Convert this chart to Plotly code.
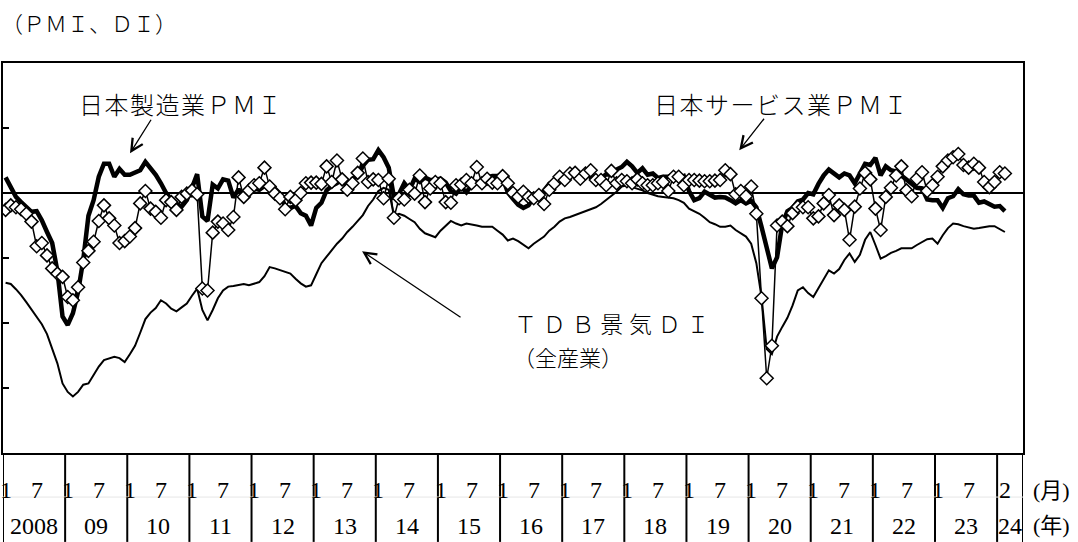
import plotly.graph_objects as go

# month slots on the category axis: Jan 2008 .. May 2024 (data ends Feb 2024)
n_slots = 197

year_labels = ["2008", "09", "10", "11", "12", "13", "14", "15", "16",
               "17", "18", "19", "20", "21", "22", "23", "24"]

# Japan manufacturing PMI
mfg = [
    52.4, 50.7, 49.4, 48.6, 47.9, 47.1, 47.2, 45.8, 44.0, 42.3, 38.0, 31.0,  # 2008
    29.7, 31.5, 34.8, 39.7, 46.5, 48.9, 52.5, 54.5, 54.5, 52.5, 53.7, 52.8,  # 2009
    52.8, 53.1, 53.5, 54.8, 53.8, 52.8, 51.5, 50.0, 49.0, 48.3, 47.9, 48.9,  # 2010
    50.8, 52.9, 46.4, 45.7, 51.3, 50.7, 52.1, 51.9, 49.3, 50.6, 49.1, 50.2,  # 2011
    50.7, 50.5, 51.1, 50.7, 50.7, 49.9, 47.9, 47.7, 48.0, 46.9, 46.5, 45.0,  # 2012
    47.7, 48.5, 50.4, 51.1, 51.5, 52.3, 50.7, 52.2, 52.5, 54.2, 55.1, 55.2,  # 2013
    56.6, 55.5, 53.9, 49.4, 49.9, 51.5, 50.5, 52.2, 51.7, 52.4, 52.0, 52.0,  # 2014
    52.2, 51.6, 50.3, 49.9, 50.9, 50.1, 51.2, 51.7, 51.0, 52.4, 52.6, 52.6,  # 2015
    52.3, 50.1, 49.1, 48.2, 47.7, 48.1, 49.3, 49.5, 50.4, 51.4, 51.3, 52.4,  # 2016
    52.7, 53.3, 52.4, 52.7, 53.1, 52.4, 52.1, 52.2, 52.9, 52.8, 53.6, 54.0,  # 2017
    54.8, 54.1, 53.1, 53.8, 52.8, 53.0, 52.3, 52.5, 52.5, 52.9, 52.2, 52.6,  # 2018
    50.3, 48.9, 49.2, 50.2, 49.8, 49.3, 49.4, 49.3, 48.9, 48.4, 48.9, 48.4,  # 2019
    48.8, 47.8, 44.8, 41.9, 38.4, 40.1, 45.2, 47.2, 47.7, 48.7, 49.0, 50.0,  # 2020
    49.8, 51.4, 52.7, 53.6, 53.0, 52.4, 53.0, 52.7, 51.5, 53.2, 54.5, 54.3,  # 2021
    55.4, 52.7, 54.1, 53.5, 53.3, 52.7, 52.1, 51.5, 50.8, 50.7, 49.0, 48.9,  # 2022
    48.9, 47.7, 49.2, 49.5, 50.6, 49.8, 49.6, 49.6, 48.5, 48.7, 48.3, 47.9,  # 2023
    48.0, 47.2,                                                              # 2024
]

# Japan services PMI
svc = [
    47.4, 48.1, 47.8, 47.5, 46.8, 45.6, 41.8, 42.3, 40.4, 38.4, 37.6, 37.1,
    34.0, 33.5, 35.5, 39.3, 41.1, 42.5, 45.7, 48.1, 46.1, 45.0, 42.3, 42.6,
    43.3, 44.6, 48.4, 50.3, 47.6, 47.1, 46.2, 48.9, 48.6, 47.4, 49.4, 49.9,
    50.4, 49.8, 35.3, 35.0, 43.9, 45.6, 45.3, 44.3, 46.3, 52.4, 49.4, 50.4,
    51.2, 51.5, 53.9, 51.0, 49.9, 49.2, 47.5, 49.4, 48.9, 50.0, 51.5, 51.6,
    51.6, 51.4, 54.1, 51.7, 55.0, 52.1, 50.5, 51.5, 53.1, 55.3, 51.7, 52.1,
    52.0, 49.2, 52.2, 46.2, 49.2, 49.0, 50.5, 49.9, 52.7, 48.6, 50.7, 51.7,
    51.5, 48.6, 48.5, 51.2, 51.3, 52.0, 51.5, 54.0, 51.5, 52.2, 51.6, 51.5,
    52.6, 51.5, 50.0, 49.4, 50.2, 49.4, 49.2, 49.7, 48.3, 50.5, 51.5, 52.5,
    52.0, 53.0, 53.1, 52.2, 53.0, 53.5, 52.0, 52.0, 51.2, 53.4, 51.5, 52.0,
    51.8, 51.5, 52.1, 51.5, 51.2, 51.2, 51.5, 51.7, 50.3, 52.5, 52.5, 51.2,
    52.0, 52.0, 51.9, 51.8, 51.8, 51.9, 52.0, 53.5, 52.9, 49.8, 50.3, 49.5,
    51.0, 46.8, 33.8, 21.5, 26.5, 45.0, 45.6, 44.9, 46.9, 47.9, 47.8, 47.8,
    46.1, 46.4, 48.4, 49.7, 46.6, 48.1, 47.4, 42.8, 47.9, 50.7, 53.1, 52.1,
    47.6, 44.3, 49.4, 50.8, 52.7, 54.1, 50.4, 49.5, 52.2, 53.2, 50.3, 51.2,
    52.5, 54.1, 55.0, 55.5, 56.0, 54.3, 53.9, 54.5, 53.9, 51.7, 50.9, 51.7,
    53.2, 53.0,
]

# TDB business conditions DI (all industries)
tdb = [
    36.2, 36.0, 35.2, 34.3, 33.2, 32.0, 31.0, 29.8, 28.3, 26.2, 23.8, 20.7,
    19.4, 18.7, 19.4, 20.5, 20.7, 22.0, 23.3, 24.3, 24.6, 24.8, 24.6, 24.0,
    25.2, 26.5, 28.5, 30.6, 31.6, 32.3, 33.5, 33.0, 32.2, 31.8, 32.4, 33.0,
    34.2, 35.3, 32.0, 30.4, 32.0, 33.8, 35.0, 35.6, 35.7, 35.8, 36.0, 35.8,
    36.0, 36.3, 37.2, 38.6, 38.4, 38.1, 37.9, 37.6, 36.8, 36.1, 35.6, 35.8,
    37.5, 39.2, 40.2, 41.2, 42.2, 43.0, 44.0, 44.8, 45.7, 46.6, 48.0, 49.0,
    50.3, 50.8, 50.5, 46.5, 46.8, 46.5, 46.0, 45.5, 44.5, 43.8, 43.5, 43.2,
    44.2, 45.0, 45.7, 45.3, 45.0, 45.3, 45.2, 45.0, 44.8, 44.8, 44.8, 44.2,
    43.6, 42.7, 43.0, 42.6, 42.0, 41.5, 42.2, 42.7, 43.3, 44.2, 44.8, 45.6,
    46.1, 46.3, 46.6, 46.8, 47.1, 47.4, 47.8, 48.3, 48.9, 49.5, 50.2, 51.0,
    51.2, 50.9, 50.7, 50.4, 50.0, 49.7, 49.5, 49.4, 49.3, 49.2, 48.9, 48.5,
    47.6, 47.2, 46.8, 46.2, 45.5, 45.2, 44.8, 44.8, 45.0, 44.3, 43.8, 43.3,
    42.2, 39.2, 34.0, 26.0, 25.2, 27.9, 29.4, 30.8, 32.7, 35.0, 35.5, 34.6,
    34.0, 35.3, 36.6, 38.1, 37.6, 38.3, 39.7, 40.7, 39.4, 40.5, 42.8, 44.0,
    42.0, 39.9, 40.3, 40.8, 41.1, 41.5, 41.5, 41.5, 42.0, 42.5, 42.9, 43.0,
    42.2, 43.5, 44.6, 45.3, 45.2, 44.9, 44.7, 44.5, 44.6, 44.8, 44.9, 44.9,
    44.5, 44.0,
]

x = list(range(len(mfg)))

JP = "Noto Sans CJK JP"
NUM = "Liberation Serif, Noto Sans CJK JP"

fig = go.Figure()
fig.add_trace(go.Scatter(x=x, y=tdb, mode="lines",
                         line=dict(color="black", width=2)))
fig.add_trace(go.Scatter(x=x, y=mfg, mode="lines",
                         line=dict(color="black", width=4.5)))
fig.add_trace(go.Scatter(x=x, y=svc, mode="lines+markers",
                         line=dict(color="black", width=1.5),
                         marker=dict(symbol="diamond", size=10, color="white",
                                     line=dict(color="black", width=1.5))))

# 50 line
fig.add_shape(type="line", xref="paper", yref="y", x0=0, x1=1, y0=50, y1=50,
              line=dict(color="black", width=2), layer="below")

# year dividers under the plot, running through both label rows
bottom = -0.228
for k in range(len(year_labels) + 1):
    xv = 12 * k - 0.5 if k < len(year_labels) else n_slots - 0.5
    fig.add_shape(type="line", xref="x", yref="paper", x0=xv, x1=xv,
                  y0=0, y1=bottom, line=dict(color="black", width=2))
# faint rule between month row and year row
fig.add_shape(type="line", xref="x", yref="paper", x0=-0.5, x1=n_slots - 0.5,
              y0=-0.113, y1=-0.113, line=dict(color="#e6e6e6", width=1))


def label(text, xv, yv, size, family=NUM, xref="paper", xanchor="center",
          weight=None):
    font = dict(family=family, size=size, color="black")
    if weight:
        font["weight"] = weight
    fig.add_annotation(x=xv, y=yv, xref=xref, yref="paper", text=text,
                       showarrow=False, xanchor=xanchor, yanchor="middle",
                       font=font)


# month labels (1 and 7 each year, 2 for 2024) and year labels
for k, yl in enumerate(year_labels):
    if k < 16:
        for m in (1, 7):
            label(str(m), 12 * k + m - 1, -0.096, 24, xref="x")
        xc = 12 * k + 5.5
    else:
        label("2", 12 * k + 1, -0.096, 24, xref="x")
        xc = (12 * k + n_slots - 1) / 2
    label(yl, xc, -0.187, 24, xref="x")

label("(月)", 1.0075, -0.096, 22, xanchor="left")
label("(年)", 1.0075, -0.187, 22, xanchor="left")

# unit label top-left
label("（ＰＭＩ、ＤＩ）", -0.004, 1.104, 22, family=JP, xanchor="left", weight=300)

# series labels (hair spaces widen the tracking like the Mincho original)
hair = "\u200a"
label(hair.join("日本製造業ＰＭＩ"), 0.1736, 0.8967, 24, family=JP, weight=300)
label(hair.join("日本サービス業ＰＭＩ"), 0.763, 0.8967, 24, family=JP, weight=300)
label("\u2005".join("ＴＤＢ景気ＤＩ"), 0.597, 0.333, 23, family=JP, weight=300)
label("（全産業）", 0.554, 0.249, 22, family=JP, weight=300)

# arrows
arrow = dict(xref="paper", yref="paper", text="", showarrow=True,
             arrowhead=5, arrowsize=1.8, arrowwidth=1.3, arrowcolor="black")
fig.add_annotation(x=0.1245, y=0.7686, ax=22, ay=-35, **arrow)
fig.add_annotation(x=0.7218, y=0.7763, ax=26, ay=-33, **arrow)
fig.add_annotation(x=0.352, y=0.5175, ax=100, ay=67, **arrow)

fig.update_layout(
    width=1078, height=542,
    margin=dict(l=3, r=55, t=63, b=89),
    plot_bgcolor="white", paper_bgcolor="white",
    showlegend=False,
    xaxis=dict(range=[-0.5, n_slots - 0.5], showgrid=False, zeroline=False,
               showticklabels=False, ticks="", showline=True, mirror=True,
               linecolor="black", linewidth=2),
    yaxis=dict(range=[10, 70], dtick=10, showgrid=False, zeroline=False,
               showticklabels=False, ticks="inside", ticklen=6, tickwidth=2,
               tickcolor="black", showline=True, mirror=True,
               linecolor="black", linewidth=2),
)

# drop the browser's default 8px body margin so the figure sits at (0, 0)
fig.write_html("out.html", config={"displayModeBar": False},
               post_script="document.body.style.margin='0';")
